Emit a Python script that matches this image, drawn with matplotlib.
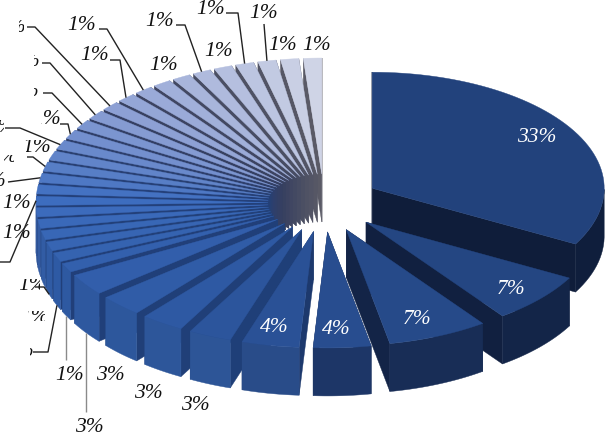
import numpy as np
import matplotlib
matplotlib.use("Agg")
import matplotlib.pyplot as plt
from matplotlib.colors import LinearSegmentedColormap
from matplotlib.patches import Rectangle

# percent shares, clockwise from 12 o'clock
values = [33, 7, 7, 4, 4, 3, 3, 3, 3] + [1.27] * 26
inner_labels = ["33%", "7%", "7%", "4%", "4%"]
outer_labels = ["3%", "3%", "3%", "3%"] + ["1%"] * 23

# layout in image pixels
W, H = 609, 437
CX, CY = 324, 203
A, B = 232, 116
EX, EY = 56, 29
DEPTH = 48

inner_pos = [(537, 137), (511, 289), (417, 319), (336, 329), (274, 327)]
# x, y, part of the text that stays visible (x0, y0, x1, y1) or None
outer_pos = [
    (110, 375, None), (148, 394, None), (195, 406, None), (89, 428, None),
    (70, 376, None), (317, 45, None), (283, 45, None), (264, 14, None),
    (219, 51, None), (211, 10, None), (164, 65, None), (160, 22, None),
    (95, 55, None), (82, 25, None), (17, 203, None), (17, 233, None),
    (47, 120, (41, 100, 70, 140)), (37, 148, (25, 140, 60, 160)),
    (33, 285, (20, 279, 40, 297)), (35, 317, (28, 311, 45, 321)),
    (12, 27, (19, 20, 24, 33)), (26, 62, (34, 55, 40, 70)),
    (25, 92, (34, 85, 40, 97)), (4, 157, (4, 155, 14, 162)),
    (-8, 182, None), (20, 352, (30, 347, 36, 358)), (2, 128, (0, 120, 4, 135)),
]

# slice index, elbow points from the label end, on bottom rim, colour
LINK = "#222222"
leaders = [
    (29, [(176, 25), (185, 25)], False, LINK),
    (31, [(226, 13), (238, 13)], False, LINK),
    (32, [(264, 24)], False, LINK),
    (26, [(99, 29), (107, 29)], False, LINK),
    (25, [(110, 60), (120, 60)], False, LINK),
    (24, [(27, 27), (35, 27)], False, LINK),
    (23, [(42, 63), (50, 63)], False, LINK),
    (22, [(43, 93), (52, 93)], False, LINK),
    (21, [(60, 124), (68, 124)], False, LINK),
    (20, [(5, 128), (20, 128)], False, LINK),
    (18, [(27, 157), (33, 157)], False, LINK),
    (17, [(8, 182)], False, LINK),
    (15, [(0, 262), (10, 262)], False, LINK),
    (11, [(35, 287), (44, 287)], True, LINK),
    (10, [(33, 352), (48, 352)], True, LINK),
    (9, [(None, 360)], True, "#8a8a8a"),
    (8, [(None, 412)], True, "#8a8a8a"),
]

top_cmap = LinearSegmentedColormap.from_list(
    "top", [(0, "#22427c"), (0.19, "#2f5ba6"), (0.45, "#3e6ec0"),
            (0.7, "#8c9fd4"), (1, "#cfd4e6")])
wall_cmap = LinearSegmentedColormap.from_list(
    "wall", [(0, "#0f1d3a"), (0.08, "#15264c"), (0.13, "#1f3f78"),
             (0.5, "#24407a"), (0.72, "#363f60"), (1, "#5a5a66")])
rim_cmap = LinearSegmentedColormap.from_list(
    "rim", [(0, "#0f1e3c"), (0.08, "#1b3260"), (0.13, "#2d5596"),
            (0.3, "#2e5aa4"), (1, "#5f6f9f")])

vals = np.array(values, dtype=float)
edges = np.concatenate([[0], np.cumsum(vals)]) / vals.sum() * 2 * np.pi
mids = (edges[:-1] + edges[1:]) / 2
n = len(vals)


def apex(i):
    return CX + EX * np.sin(mids[i]), CY - EY * np.cos(mids[i])


def rim(i, t):
    ax0, ay0 = apex(i)
    return ax0 + A * np.sin(t), ay0 - B * np.cos(t)


fig = plt.figure(figsize=(W / 100, H / 100), dpi=100)
ax = fig.add_axes([0, 0, 1, 1])
ax.set_xlim(0, W)
ax.set_ylim(H, 0)
ax.axis("off")

text_kw = dict(family="Liberation Serif", style="italic", fontsize=15.5,
               ha="center", va="center")

# outside labels go under the pie; white masks cut the damaged ones
for lab, (x, y, box) in zip(outer_labels, outer_pos):
    ax.text(x, y, lab, color="#111111", zorder=0.2, **text_kw)
    if box is None:
        continue
    x0, y0, x1, y1 = box
    l, r, t, b = x - 22, x + 22, y - 13, y + 13
    for rx0, ry0, rx1, ry1 in [(l, t, x0, b), (x1, t, r, b), (x0, t, x1, y0), (x0, y1, x1, b)]:
        if rx1 > rx0 and ry1 > ry0:
            ax.add_patch(Rectangle((rx0, ry0), rx1 - rx0, ry1 - ry0, color="white",
                                   lw=0, zorder=0.4))

order = sorted(range(n), key=lambda i: -np.cos(mids[i]))
z = 1
for i in order:
    f = i / (n - 1)
    top_c = top_cmap(f)
    wall_c = wall_cmap(f)
    rim_c = rim_cmap(f)
    px, py = apex(i)
    t = np.linspace(edges[i], edges[i + 1], 60)
    xs, ys = rim(i, t)

    # radial walls, the far one first
    for e in sorted([edges[i], edges[i + 1]], key=lambda a: -np.cos(a)):
        ex, ey = rim(i, e)
        ax.fill([px, ex, ex, px], [py, ey, ey + DEPTH, py + DEPTH],
                color=wall_c, lw=0.3, zorder=z)
    # outer wall, only the part that faces the viewer
    front = np.cos(t) < 0.02
    if front.any():
        fx, fy = xs[front], ys[front]
        ax.fill(np.r_[fx, fx[::-1]], np.r_[fy, fy[::-1] + DEPTH],
                color=rim_c, lw=0.3, zorder=z)
    ax.fill(np.r_[px, xs], np.r_[py, ys], color=top_c, lw=0.3, zorder=z + 1)
    z += 2

for idx, elbows, bottom, col in leaders:
    rx, ry = rim(idx, mids[idx])
    if bottom:
        ry += DEPTH
    lx = [rx if p[0] is None else p[0] for p in elbows] + [rx]
    ly = [p[1] for p in elbows] + [ry]
    ax.plot(lx, ly, color=col, lw=1.0, zorder=z, solid_capstyle="butt")
z += 1

for lab, (x, y) in zip(inner_labels, inner_pos):
    ax.text(x, y, lab, color="white", zorder=z, **text_kw)

fig.savefig("out.png", dpi=100)
